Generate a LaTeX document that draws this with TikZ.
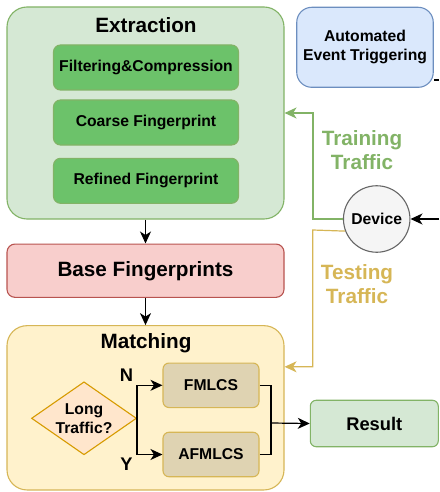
\documentclass[tikz,border=0pt]{standalone}
\usepackage{fontspec}
\setmainfont{Liberation Sans}
\usetikzlibrary{arrows.meta,shapes.geometric}
\definecolor{grnfill}{HTML}{D5E8D4}
\definecolor{grnline}{HTML}{82B366}
\definecolor{grndark}{HTML}{6CC26A}
\definecolor{bluefill}{HTML}{DAE8FC}
\definecolor{blueline}{HTML}{6C8EBF}
\definecolor{redfill}{HTML}{F8CECC}
\definecolor{redline}{HTML}{B85450}
\definecolor{yelfill}{HTML}{FFF2CC}
\definecolor{yelline}{HTML}{D6B656}
\definecolor{tanfill}{HTML}{DFD3B2}
\definecolor{orfill}{HTML}{FFE6CC}
\definecolor{orline}{HTML}{D79B00}
\definecolor{devfill}{HTML}{F5F5F5}
\definecolor{devline}{HTML}{666666}
\begin{document}
\begin{tikzpicture}[x=1pt,y=-1pt,
  box/.style={draw, line width=1.1pt, align=center, inner sep=0pt,
    font=\fontsize{15.7}{19}\selectfont\bfseries},
  big/.style={font=\fontsize{20.7}{24}\selectfont\bfseries},
  mid/.style={font=\fontsize{18.3}{22}\selectfont\bfseries},
  arr/.style={line width=1.2pt, -{Stealth[length=12pt,width=11pt,inset=3.5pt]}},
  inner/.style={box, fill=grndark, draw=grnline, rounded corners=7pt,
    minimum width=185pt, minimum height=45pt},
  algo/.style={box, fill=tanfill, draw=yelline, rounded corners=6pt,
    minimum width=96pt, minimum height=44.5pt}]

\useasboundingbox (0,0) rectangle (439,492);

\node [box, fill=grnfill, draw=grnline, rounded corners=20pt, minimum width=277pt, minimum height=212pt] (ext) at (145.5,113) {};
\node [big] (extT) at (146,25) {Extraction};
\node [inner] (filt) at (146,67.5) {Filtering\&Compression};
\node [inner] (coarse) at (146,122.5) {Coarse Fingerprint};
\node [inner] (refined) at (146,180.8) {Refined Fingerprint};

\node [box, fill=bluefill, draw=blueline, rounded corners=15pt, minimum width=136.5pt, minimum height=80pt] (auto) at (365,47.3) {Automated\\Event Triggering};
\coordinate (autoout) at (439,80);

\node [box, circle, fill=devfill, draw=devline, minimum size=66.5pt] (dev) at (376.7,219) {Device};
\coordinate (devin) at (439,219);

\node [big, text=grnline, align=center] (train) at (362,150.5) {Training\\Traffic};
\node [big, text=yelline, align=center] (test) at (357,284.5) {Testing\\Traffic};

\node [box, big, fill=redfill, draw=redline, rounded corners=8pt, minimum width=277pt, minimum height=53.3pt] (base) at (145.5,270.7) {Base Fingerprints};

\node [box, fill=yelfill, draw=yelline, rounded corners=20pt, minimum width=277pt, minimum height=164.3pt] (match) at (145.5,407.8) {};
\node [big] (matchT) at (146,343.3) {Matching};

\node [box, diamond, aspect=1.44, fill=orfill, draw=orline, minimum width=105pt, minimum height=73pt] (long) at (84,418.3) {Long\\Traffic?};
\node [algo] (fm) at (211,385.3) {FMLCS};
\node [algo] (afm) at (211,454.5) {AFMLCS};
\node [mid] (nlab) at (126.5,375) {N};
\node [mid] (ylab) at (126.5,464) {Y};
\coordinate (mrg) at (271,423);

\node [box, mid, fill=grnfill, draw=grnline, rounded corners=6pt, minimum width=128pt, minimum height=46.5pt] (res) at (374.3,423.5) {Result};

\draw [line width=1.2pt] (auto.east |- autoout) -- (autoout);
\draw [arr] (devin) -- (dev.east);
\draw [arr, draw=grnline] (dev.west) -- ++(-30,0) |- (ext.east);
\draw [arr, draw=yelline] (dev.201) -- (312.7,230) |- ([yshift=41pt]match.east);
\draw [arr] (ext.south) -- (base.north);
\draw [arr] (base.south) -- (match.north);
\draw [arr] (long.east) |- (fm.west);
\draw [arr] (long.east) |- (afm.west);
\draw [line width=1.2pt] (fm.east) -| (mrg);
\draw [line width=1.2pt] (afm.east) -| (mrg);
\draw [arr] (mrg) -- (res.west);
\end{tikzpicture}
\end{document}
